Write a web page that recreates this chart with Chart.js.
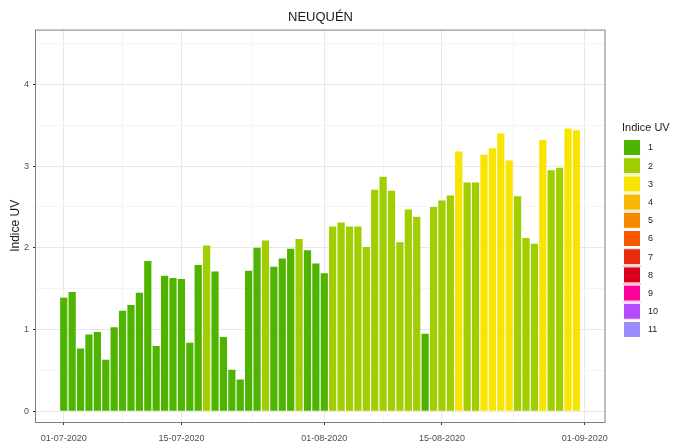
<!DOCTYPE html>
<html>
<head>
<meta charset="utf-8">
<script src="https://cdn.jsdelivr.net/npm/chart.js@4.4.1/dist/chart.umd.min.js"></script>
<style>
  body { margin: 0; background: #fff; }
  canvas { display: block; }
</style>
</head>
<body>
<canvas id="uvChart" width="674" height="448"></canvas>
<script>
// daily UV index, 01-07-2020 .. 31-08-2020 (day 0 = 01-07)
const uvValues = [
    1.39, 1.46, 0.77, 0.94, 0.97, 0.63, 1.03, 1.23, 1.30, 1.45,
    1.84, 0.80, 1.66, 1.63, 1.62, 0.84, 1.79, 2.03, 1.71, 0.91,
    0.51, 0.39, 1.72, 2.00, 2.09, 1.77, 1.87, 1.99, 2.11, 1.97,
    1.81, 1.69, 2.26, 2.31, 2.26, 2.26, 2.01, 2.71, 2.87, 2.70,
    2.07, 2.47, 2.38, 0.95, 2.50, 2.58, 2.64, 3.18, 2.80, 2.80,
    3.14, 3.22, 3.40, 3.07, 2.63, 2.12, 2.05, 3.32, 2.95, 2.98,
    3.46, 3.44
];
// colour class of each bar (legend level)
const uvClass = [
    1, 1, 1, 1, 1, 1, 1, 1, 1, 1,
    1, 1, 1, 1, 1, 1, 1, 2, 1, 1,
    1, 1, 1, 1, 2, 1, 1, 1, 2, 1,
    1, 1, 2, 2, 2, 2, 2, 2, 2, 2,
    2, 2, 2, 1, 2, 2, 2, 3, 2, 2,
    3, 3, 3, 3, 2, 2, 2, 3, 2, 2,
    3, 3
];
const legendLevels = ['1', '2', '3', '4', '5', '6', '7', '8', '9', '10', '11'];
const legendColors = ['#4eb400', '#a0ce00', '#f7e400', '#f8b600', '#f88700', '#f85900',
                      '#e82c0e', '#d8001d', '#ff0099', '#b54cff', '#998cff'];
const xTickDays = [0, 14, 31, 45, 62];
const xTickLabels = ['01-07-2020', '15-07-2020', '01-08-2020', '15-08-2020', '01-09-2020'];
const xMinorDays = [7, 22.5, 38, 53.5];
const yTickValues = [0, 1, 2, 3, 4];
const yMinorValues = [0.5, 1.5, 2.5, 3.5, 4.5];

const FONT = '"Liberation Sans", Arial, Helvetica, sans-serif';

const isMajorX = v => xTickDays.includes(v);
const isMajorY = v => yTickValues.includes(v);

// panel border + legend drawn by hand, ggplot style
const panelAndLegend = {
    id: 'panelAndLegend',
    afterDatasetsDraw(chart) {
        const { ctx, chartArea: a } = chart;
        ctx.save();
        ctx.strokeStyle = '#7f7f7f';
        ctx.lineWidth = 1;
        ctx.strokeRect(a.left - 0.5, a.top + 0.5, a.right - a.left + 0.5, a.bottom - a.top);
        ctx.restore();
    },
    afterDraw(chart) {
        const ctx = chart.ctx;
        ctx.save();
        ctx.fillStyle = '#1a1a1a';
        ctx.font = '11px ' + FONT;
        ctx.textBaseline = 'middle';
        ctx.textAlign = 'left';
        ctx.fillText('Indice UV', 622, 128);
        ctx.font = '9px ' + FONT;
        legendLevels.forEach((lab, i) => {
            const y = 139 + i * 18.2;
            ctx.fillStyle = legendColors[i];
            ctx.fillRect(623, y, 18, 17);
            ctx.strokeStyle = '#ffffff';
            ctx.lineWidth = 1;
            ctx.strokeRect(623.5, y + 0.5, 17, 16);
            ctx.fillStyle = '#1a1a1a';
            ctx.fillText(lab, 648, y + 9);
        });
        ctx.restore();
    }
};

new Chart(document.getElementById('uvChart'), {
    type: 'bar',
    data: {
        datasets: [{
            label: 'Indice UV',
            data: uvValues.map((v, i) => ({ x: i, y: v })),
            backgroundColor: uvClass.map(c => legendColors[c - 1]),
            borderWidth: 0,
            barPercentage: 0.86,
            categoryPercentage: 1
        }]
    },
    options: {
        responsive: false,
        animation: false,
        layout: { padding: { left: 0, right: 69, top: 0, bottom: 0 } },
        plugins: {
            legend: { display: false },
            tooltip: { enabled: false },
            title: {
                display: true,
                text: 'NEUQUÉN',
                fullSize: false,
                color: '#1a1a1a',
                font: { family: FONT, size: 13, weight: 'normal' },
                padding: { top: 10, bottom: 4 }
            }
        },
        scales: {
            x: {
                type: 'linear',
                min: -3.3,
                max: 64.4,
                offset: false,
                afterBuildTicks: scale => {
                    scale.ticks = xTickDays.concat(xMinorDays).sort((a, b) => a - b).map(v => ({ value: v }));
                },
                afterFit: scale => { scale.height = 26; },
                ticks: {
                    autoSkip: false,
                    maxRotation: 0,
                    padding: 8,
                    color: '#4d4d4d',
                    font: { family: FONT, size: 9 },
                    callback: v => {
                        const k = xTickDays.indexOf(v);
                        return k >= 0 ? xTickLabels[k] : '';
                    }
                },
                grid: {
                    offset: false,
                    color: c => isMajorX(c.tick.value) ? '#e8e8e8' : '#f4f4f4',
                    tickColor: c => isMajorX(c.tick.value) ? '#333333' : 'rgba(0,0,0,0)',
                    tickLength: 3
                },
                border: { display: false }
            },
            y: {
                min: -0.13,
                max: 4.67,
                afterBuildTicks: scale => {
                    scale.ticks = yTickValues.concat(yMinorValues).sort((a, b) => a - b).map(v => ({ value: v }));
                },
                afterFit: scale => { scale.width = 36; },
                ticks: {
                    padding: 4,
                    color: '#4d4d4d',
                    font: { family: FONT, size: 9 },
                    callback: v => isMajorY(v) ? String(v) : ''
                },
                grid: {
                    color: c => isMajorY(c.tick.value) ? '#e8e8e8' : '#f4f4f4',
                    tickColor: c => isMajorY(c.tick.value) ? '#333333' : 'rgba(0,0,0,0)',
                    tickLength: 3
                },
                border: { display: false },
                title: {
                    display: true,
                    text: 'Indice UV',
                    color: '#1a1a1a',
                    font: { family: FONT, size: 12 },
                    padding: { top: 8, bottom: 0 }
                }
            }
        }
    },
    plugins: [panelAndLegend]
});
</script>
</body>
</html>
